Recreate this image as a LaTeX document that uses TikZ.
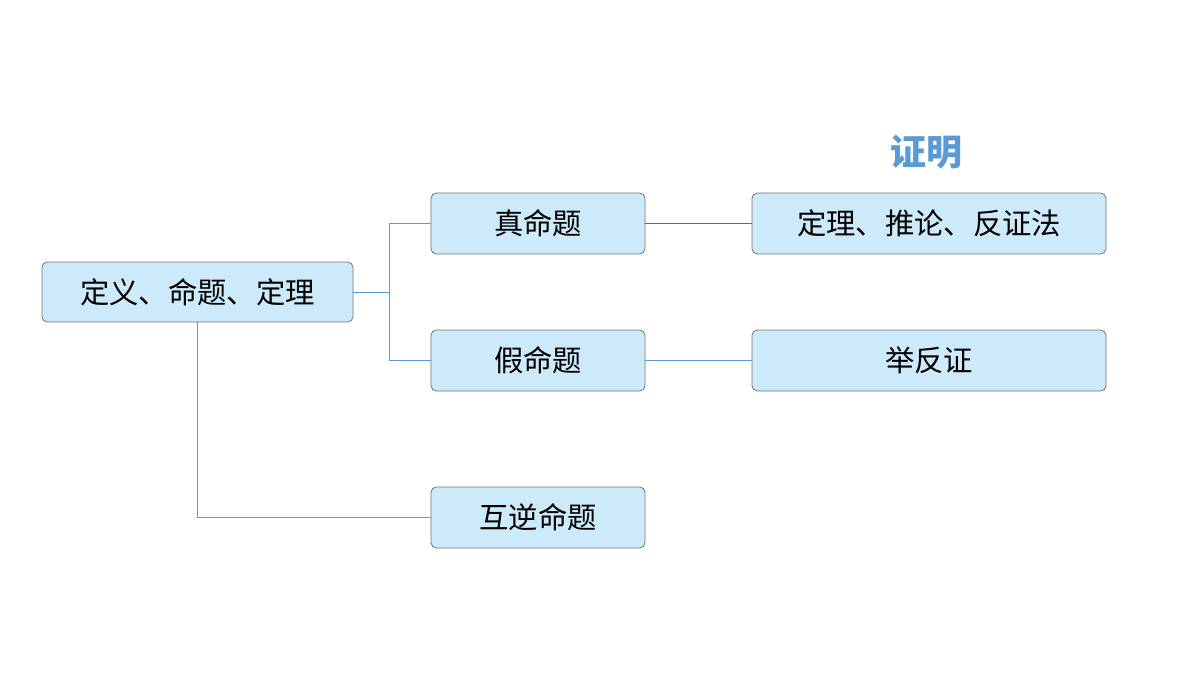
\documentclass[tikz,border=0pt]{standalone}
\usepackage{fontspec}
\newfontfamily\cjk{Noto Sans CJK SC}
\begin{document}
\begin{tikzpicture}[x=0.75pt,y=-0.75pt,
  box/.style={draw=black!55,fill=cyan!6!blue!4!white,fill={rgb,255:red,205;green,234;blue,251},rounded corners=4pt,inner sep=0pt,font=\cjk\fontsize{22}{24}\selectfont,line width=0.6pt},
  bl/.style={draw={rgb,255:red,91;green,155;blue,213},line width=0.6pt},
  gr/.style={draw=black!60,line width=0.5pt}]
\useasboundingbox (0,0) rectangle (1200,675);
\node[box,minimum width=311*0.75pt,minimum height=60*0.75pt] (a) at (197.5,292) {定义、命题、定理};
\node[box,minimum width=214*0.75pt,minimum height=61*0.75pt] (b) at (538,223.5) {真命题};
\node[box,minimum width=214*0.75pt,minimum height=61*0.75pt] (c) at (538,360.5) {假命题};
\node[box,minimum width=214*0.75pt,minimum height=61*0.75pt] (d) at (538,517.5) {互逆命题};
\node[box,minimum width=354*0.75pt,minimum height=61*0.75pt] (e) at (929,223.5) {定理、推论、反证法};
\node[box,minimum width=354*0.75pt,minimum height=61*0.75pt] (f) at (929,360.5) {举反证};
\node[font=\cjk\bfseries\fontsize{27}{30}\selectfont,text={rgb,255:red,91;green,155;blue,213}] (t) at (926,152) {证明};
\coordinate (j) at (389,292);
\draw[bl] (a.east) -- (j) |- (b.west);
\draw[bl] (j) |- (c.west);
\draw[gr] (b.east) -- (e.west);
\draw[bl] (c.east) -- (f.west);
\draw[bl] (a.south) |- (d.west);
\end{tikzpicture}
\end{document}
